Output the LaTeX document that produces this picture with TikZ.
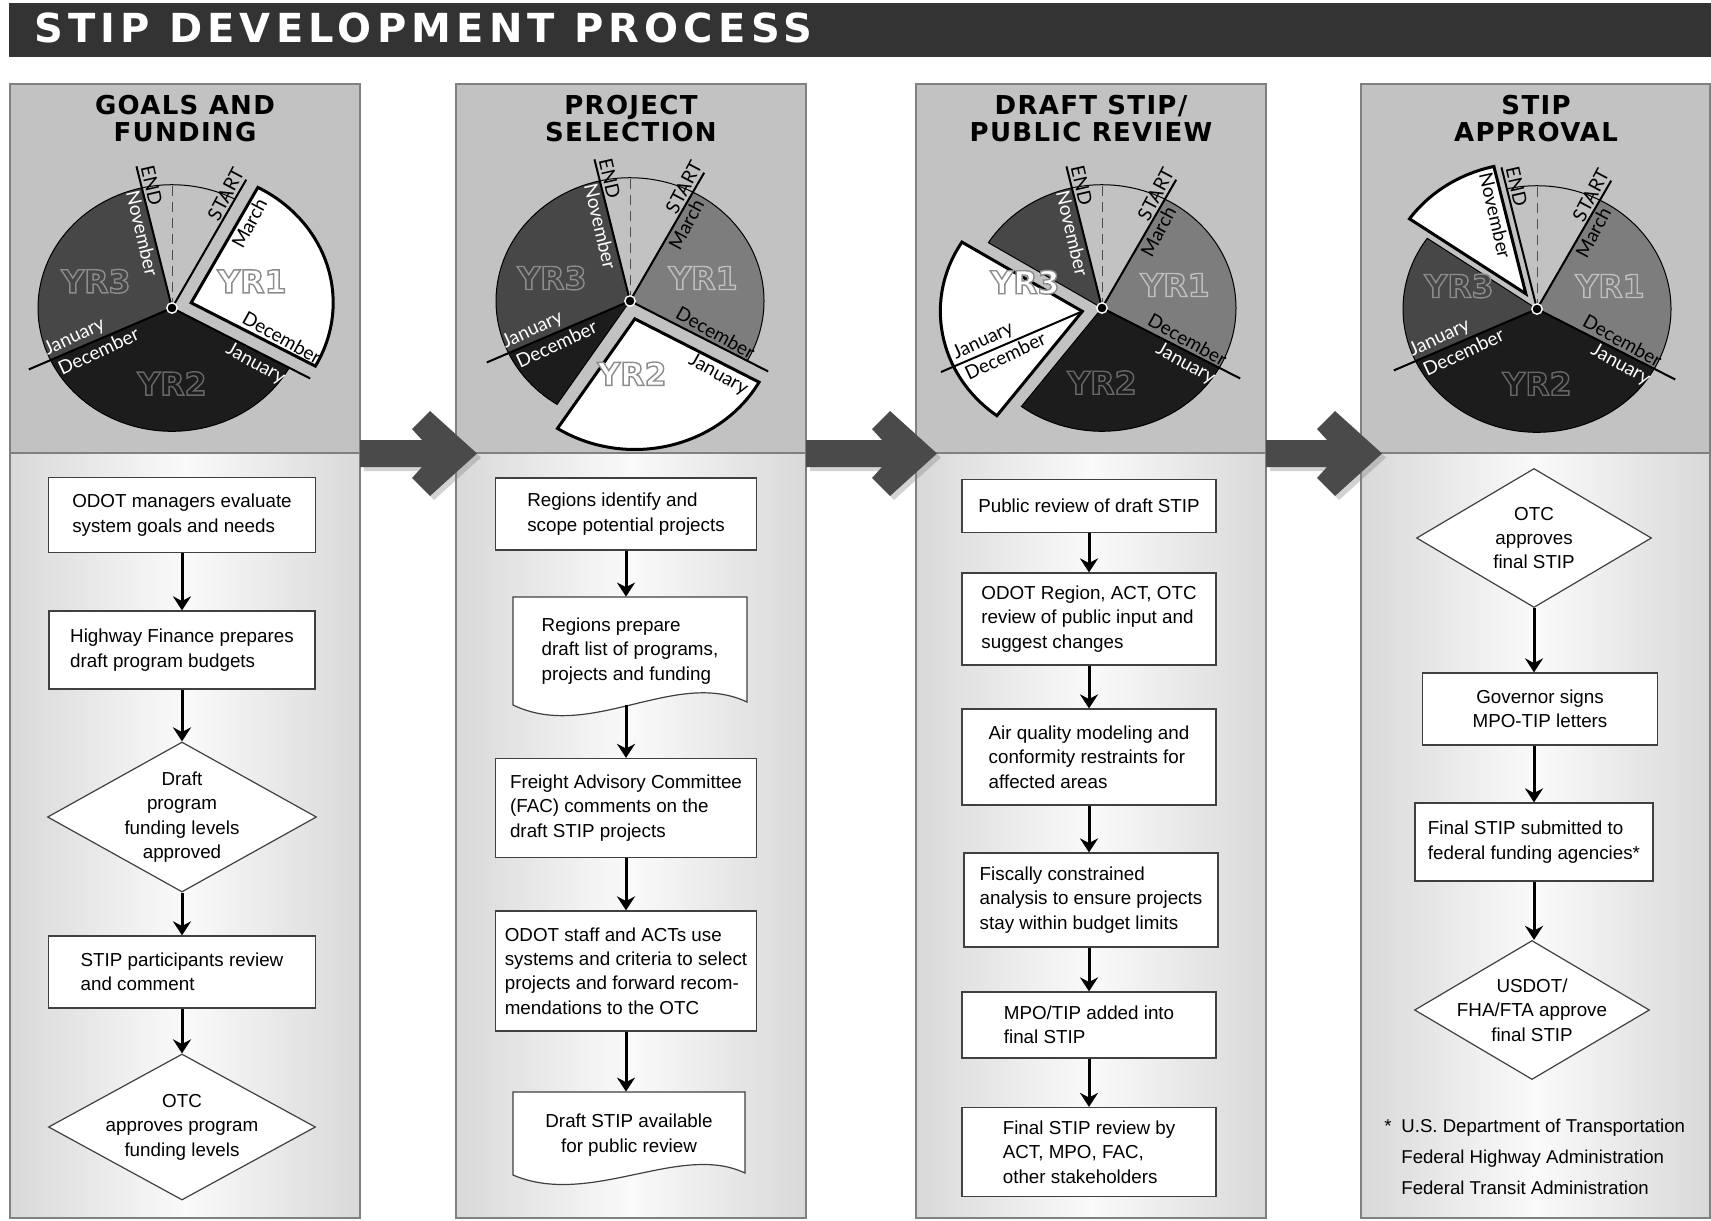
\documentclass[tikz,border=0pt]{standalone}
\usepackage{fontspec}
\setmainfont{Liberation Sans}
\newfontfamily\titlefont[LetterSpace=13]{DejaVu Sans}
\newfontfamily\headfont[LetterSpace=5]{DejaVu Sans}
\newfontfamily\yrfont{DejaVu Sans}
\newfontfamily\monthfont{Lato}
\usetikzlibrary{shapes.geometric, arrows.meta, shadows}

\definecolor{titlebar}{gray}{0.2}
\definecolor{headbg}{gray}{0.76}
\definecolor{colframe}{gray}{0.5}
\definecolor{yrone}{gray}{0.49}
\definecolor{yrtwo}{gray}{0.11}
\definecolor{yrthree}{gray}{0.28}
\definecolor{blockgray}{gray}{0.29}
\newcommand\boxfont{\fontsize{9.4}{12.2}\selectfont}
% hollow year letters: fill colour, stroke grey level, text
\newcommand\yrtext[3]{{\color{#1}\special{pdf:literal direct #2 G 0.7 w 2 Tr}#3\special{pdf:literal direct 0 Tr}}}

\begin{document}
\begin{tikzpicture}[x=0.5pt, y=-0.5pt,
    step box/.style={rectangle, draw=black!75, line width=0.6pt, fill=white, align=left, font=\boxfont, inner sep=2pt},
    doc box/.style={rectangle, align=left, font=\boxfont, inner sep=2pt},
    decision/.style={diamond, draw=black!75, line width=0.6pt, fill=white, align=center, font=\boxfont, shape aspect=1.7, inner xsep=-8pt, inner ysep=0pt},
    flow/.style={line width=1.5pt, -{Stealth[length=7pt, width=9pt]}},
    head text/.style={align=center, font=\headfont\bfseries\fontsize{13}{13.5}\selectfont},
    big arrow/.style={fill=blockgray, drop shadow={shadow xshift=2pt, shadow yshift=-2pt, opacity=0.35}},
    slice/.style={draw=black, line width=0.5pt},
    picked/.style={draw=black, fill=white, line width=1.5pt},
    spoke/.style={draw=black, line width=1pt},
    mid line/.style={dashed, dash pattern=on 5pt off 3pt, draw=black!70, line width=0.5pt},
    hub/.style={fill=black, draw=white, line width=0.7pt},
    month/.style={font=\monthfont\fontsize{9.5}{10}\selectfont, inner sep=1.5pt},
    yr/.style={font=\yrfont\bfseries\fontsize{15.8}{16}\selectfont, inner sep=0pt}]

\useasboundingbox (0,0) rectangle (1711,1220);
\fill[white] (0,0) rectangle (1711,1220);

% title bar
\fill[titlebar] (9,3) rectangle (1711,57);
\node[anchor=west, text=white, font=\titlefont\bfseries\fontsize{20}{20}\selectfont] (title) at (27,28) {STIP DEVELOPMENT PROCESS};

% four columns
\foreach \l/\r in {10/360, 456/806, 916/1266, 1361/1710} {
  \fill[headbg] (\l,84) rectangle (\r,453);
  \shade[left color=gray!30, right color=gray!30, middle color=gray!4] (\l,453) rectangle (\r,1218);
  \draw[colframe, line width=0.9pt] (\l,84) rectangle (\r,1218);
  \draw[colframe, line width=0.9pt] (\l,453) -- (\r,453);
}

% block arrows between the columns
\foreach \s/\l in {360/456, 806/916, 1266/1361} {
  \path[big arrow] (\s,440) -- (\l-34,440) -- (\l-44,429) -- (\l-26,411) -- (\l+21,453.5)
    -- (\l-26,496) -- (\l-44,478) -- (\l-34,467) -- (\s,467) -- cycle;
}

\node[head text] (head1) at (185,119) {GOALS AND\\FUNDING};
\node[head text] (head2) at (631,119) {PROJECT\\SELECTION};
\node[head text] (head3) at (1091,119) {DRAFT STIP/\\PUBLIC REVIEW};
\node[head text] (head4) at (1536,119) {STIP\\APPROVAL};

% wheel 1: YR1 picked out
\begin{scope}[shift={(172,308)}, x=0.5pt, y=0.46pt]
  \filldraw[slice, fill=yrtwo] (0,0) -- (-29:134) arc[start angle=-29, end angle=-155, radius=134] -- cycle;
  \filldraw[slice, fill=yrthree] (0,0) -- (205:134) arc[start angle=205, end angle=103, radius=134] -- cycle;
  \draw[slice] (62:134) arc[start angle=62, end angle=103, radius=134];
  \draw[mid line] (0,0) -- (90:134);
  \begin{scope}[shift={(16.5:20)}]
    \filldraw[picked] (0,0) -- (62:142) arc[start angle=62, end angle=-29, radius=142] -- cycle;
    \node[month, rotate=62, anchor=north] (w1mar) at (62:104) {March};
    \node[month, rotate=-29, anchor=south] (w1dec) at (-29:98) {December};
  \end{scope}
  \draw[spoke] (0,0) -- (62:158);
  \draw[spoke] (0,0) -- (103:158);
  \draw[spoke] (0,0) -- (-29:158);
  \draw[spoke] (0,0) -- (205:158);
  \node[month, rotate=62, anchor=south] (w1start) at (62:134) {START};
  \node[month, rotate=-77, anchor=south] (w1end) at (103:134) {END};
  \node[month, rotate=-77, anchor=north, text=white] (w1nov) at (103:86) {November};
  \node[month, rotate=-29, anchor=north, text=white] (w1jan) at (-29:102) {January};
  \node[month, rotate=25, anchor=south, text=white] (w1jan3) at (205:102) {January};
  \node[month, rotate=25, anchor=north, text=white] (w1dec2) at (205:86) {December};
  \node[yr] (w1y1) at (80,29) {\yrtext{white}{0.55}{YR1}};
  \node[yr] (w1y2) at (0,-82) {\yrtext{yrtwo}{0.4}{YR2}};
  \node[yr] (w1y3) at (-76,29) {\yrtext{yrthree}{0.55}{YR3}};
  \filldraw[hub] (0,0) circle (2.6pt);
\end{scope}

% wheel 2: first part of YR2 picked out
\begin{scope}[shift={(630,301)}, x=0.5pt, y=0.46pt]
  \filldraw[slice, fill=yrone] (0,0) -- (62:134) arc[start angle=62, end angle=-29, radius=134] -- cycle;
  \filldraw[slice, fill=yrtwo] (0,0) -- (-123:134) arc[start angle=-123, end angle=-155, radius=134] -- cycle;
  \filldraw[slice, fill=yrthree] (0,0) -- (205:134) arc[start angle=205, end angle=103, radius=134] -- cycle;
  \draw[slice] (62:134) arc[start angle=62, end angle=103, radius=134];
  \draw[mid line] (0,0) -- (90:134);
  \begin{scope}[shift={(-76:20)}]
    \filldraw[picked] (0,0) -- (-29:142) arc[start angle=-29, end angle=-123, radius=142] -- cycle;
    \node[month, rotate=-29, anchor=north] (w2jan) at (-29:102) {January};
  \end{scope}
  \draw[spoke] (0,0) -- (62:158);
  \draw[spoke] (0,0) -- (103:158);
  \draw[spoke] (0,0) -- (-29:158);
  \draw[spoke] (0,0) -- (205:158);
  \node[month, rotate=62, anchor=south] (w2start) at (62:134) {START};
  \node[month, rotate=62, anchor=north] (w2mar) at (62:100) {March};
  \node[month, rotate=-77, anchor=south] (w2end) at (103:134) {END};
  \node[month, rotate=-77, anchor=north, text=white] (w2nov) at (103:86) {November};
  \node[month, rotate=-29, anchor=south] (w2dec) at (-29:92) {December};
  \node[month, rotate=25, anchor=south, text=white] (w2jan3) at (205:102) {January};
  \node[month, rotate=25, anchor=north, text=white] (w2dec2) at (205:86) {December};
  \node[yr] (w2y1) at (73,25) {\yrtext{yrone}{0.75}{YR1}};
  \node[yr] (w2y2) at (2,-79) {\yrtext{white}{0.55}{YR2}};
  \node[yr] (w2y3) at (-78,25) {\yrtext{yrthree}{0.55}{YR3}};
  \filldraw[hub] (0,0) circle (2.6pt);
\end{scope}

% wheel 3: end of YR2 and start of YR3 picked out
\begin{scope}[shift={(1102,308)}, x=0.5pt, y=0.46pt]
  \filldraw[slice, fill=yrone] (0,0) -- (62:134) arc[start angle=62, end angle=-29, radius=134] -- cycle;
  \filldraw[slice, fill=yrtwo] (0,0) -- (-29:134) arc[start angle=-29, end angle=-127, radius=134] -- cycle;
  \filldraw[slice, fill=yrthree] (0,0) -- (148:134) arc[start angle=148, end angle=103, radius=134] -- cycle;
  \draw[slice] (62:134) arc[start angle=62, end angle=103, radius=134];
  \draw[mid line] (0,0) -- (90:134);
  \begin{scope}[shift={(190.5:20)}]
    \filldraw[picked] (0,0) -- (148:142) arc[start angle=148, end angle=233, radius=142] -- cycle;
    \draw[spoke] (0,0) -- (205:156);
    \node[month, rotate=25, anchor=south] (w3jan3) at (205:104) {January};
    \node[month, rotate=25, anchor=north] (w3dec2) at (205:90) {December};
  \end{scope}
  \draw[spoke] (0,0) -- (62:158);
  \draw[spoke] (0,0) -- (103:158);
  \draw[spoke] (0,0) -- (-29:158);
  \node[month, rotate=62, anchor=south] (w3start) at (62:134) {START};
  \node[month, rotate=62, anchor=north] (w3mar) at (62:100) {March};
  \node[month, rotate=-77, anchor=south] (w3end) at (103:134) {END};
  \node[month, rotate=-77, anchor=north, text=white] (w3nov) at (103:86) {November};
  \node[month, rotate=-29, anchor=south] (w3dec) at (-29:92) {December};
  \node[month, rotate=-29, anchor=north, text=white] (w3jan) at (-29:102) {January};
  \node[yr] (w3y1) at (73,25) {\yrtext{yrone}{0.75}{YR1}};
  \node[yr] (w3y2) at (0,-81) {\yrtext{yrtwo}{0.4}{YR2}};
  \node[yr] (w3y3) at (-77,28) {\yrtext{white}{0.55}{YR3}};
  \filldraw[hub] (0,0) circle (2.6pt);
\end{scope}

% wheel 4: end of YR3 picked out
\begin{scope}[shift={(1537,309)}, x=0.5pt, y=0.46pt]
  \filldraw[slice, fill=yrone] (0,0) -- (62:134) arc[start angle=62, end angle=-29, radius=134] -- cycle;
  \filldraw[slice, fill=yrtwo] (0,0) -- (-29:134) arc[start angle=-29, end angle=-155, radius=134] -- cycle;
  \filldraw[slice, fill=yrthree] (0,0) -- (205:134) arc[start angle=205, end angle=145, radius=134] -- cycle;
  \draw[slice] (62:134) arc[start angle=62, end angle=103, radius=134];
  \draw[mid line] (0,0) -- (90:134);
  \begin{scope}[shift={(124:20)}]
    \filldraw[picked] (0,0) -- (103:142) arc[start angle=103, end angle=145, radius=142] -- cycle;
    \node[month, rotate=-77, anchor=north] (w4nov) at (103:90) {November};
  \end{scope}
  \draw[spoke] (0,0) -- (62:158);
  \draw[spoke] (0,0) -- (103:158);
  \draw[spoke] (0,0) -- (-29:158);
  \draw[spoke] (0,0) -- (205:158);
  \node[month, rotate=62, anchor=south] (w4start) at (62:134) {START};
  \node[month, rotate=62, anchor=north] (w4mar) at (62:100) {March};
  \node[month, rotate=-77, anchor=south] (w4end) at (103:134) {END};
  \node[month, rotate=-29, anchor=south] (w4dec) at (-29:92) {December};
  \node[month, rotate=-29, anchor=north, text=white] (w4jan) at (-29:102) {January};
  \node[month, rotate=25, anchor=south, text=white] (w4jan3) at (205:102) {January};
  \node[month, rotate=25, anchor=north, text=white] (w4dec2) at (205:86) {December};
  \node[yr] (w4y1) at (73,25) {\yrtext{yrone}{0.75}{YR1}};
  \node[yr] (w4y2) at (0,-81) {\yrtext{yrtwo}{0.4}{YR2}};
  \node[yr] (w4y3) at (-78,25) {\yrtext{yrthree}{0.55}{YR3}};
  \filldraw[hub] (0,0) circle (2.6pt);
\end{scope}

% goals and funding
\node[step box, minimum width=133.5pt, minimum height=37.5pt] (fund1) at (182,515) {ODOT managers evaluate\\system goals and needs};
\node[step box, minimum width=133pt, minimum height=39pt] (fund2) at (182,650) {Highway Finance prepares\\draft program budgets};
\node[decision, minimum width=134.5pt, minimum height=75pt] (fund3) at (182,817) {Draft\\program\\funding levels\\approved};
\node[step box, minimum width=133.5pt, minimum height=36pt] (fund4) at (182,972) {STIP participants review\\and comment};
\node[decision, minimum width=133.5pt, minimum height=73pt] (fund5) at (182,1127) {OTC\\approves program\\funding levels};

\draw[flow] (fund1.south) -- (fund1.south |- fund2.north);
\draw[flow] (fund2.south) -- (fund2.south |- fund3.north);
\draw[flow] (fund3.south) -- (fund3.south |- fund4.north);
\draw[flow] (fund4.south) -- (fund4.south |- fund5.north);

% project selection
\node[step box, minimum width=130.5pt, minimum height=36pt] (sel1) at (626,514) {Regions identify and\\scope potential projects};
\draw[line width=0.6pt, draw=black!75, fill=white] (513,597) -- (747,597) -- (747,702)
  .. controls (675,668) and (590,742) .. (513,705) -- cycle;
\node[doc box, minimum width=117pt, minimum height=54pt] (sel2) at (630,651) {Regions prepare\\draft list of programs,\\projects and funding};
\node[step box, minimum width=130.5pt, minimum height=49.5pt] (sel3) at (626,808) {Freight Advisory Committee\\(FAC) comments on the\\draft STIP projects};
\node[step box, minimum width=130.5pt, minimum height=60pt] (sel4) at (626,971) {ODOT staff and ACTs use\\systems and criteria to select\\projects and forward recom-\\mendations to the OTC};
\draw[line width=0.6pt, draw=black!75, fill=white] (513,1092) -- (745,1092) -- (745,1173)
  .. controls (680,1142) and (590,1208) .. (513,1175) -- cycle;
\node[doc box, align=center, minimum width=116pt, minimum height=43pt] (sel5) at (629,1135) {Draft STIP available\\for public review};

\draw[flow] (sel1.south) -- (sel1.south |- sel2.north);
\draw[flow] (sel2.south -| sel1.south) -- (sel1.south |- sel3.north);
\draw[flow] (sel3.south) -- (sel3.south |- sel4.north);
\draw[flow] (sel4.south) -- (sel4.south |- sel5.north);

% draft stip / public review
\node[step box, minimum width=127pt, minimum height=26.5pt] (rev1) at (1089,506) {Public review of draft STIP};
\node[step box, minimum width=127pt, minimum height=46pt] (rev2) at (1089,619) {ODOT Region, ACT, OTC\\review of public input and\\suggest changes};
\node[step box, minimum width=127pt, minimum height=48pt] (rev3) at (1089,757) {Air quality modeling and\\conformity restraints for\\affected areas};
\node[step box, minimum width=127pt, minimum height=47pt] (rev4) at (1091,900) {Fiscally constrained\\analysis to ensure projects\\stay within budget limits};
\node[step box, minimum width=127pt, minimum height=33pt] (rev5) at (1089,1025) {MPO/TIP added into\\final STIP};
\node[step box, minimum width=127pt, minimum height=44.5pt] (rev6) at (1089,1152) {Final STIP review by\\ACT, MPO, FAC,\\other stakeholders};

\draw[flow] (rev1.south) -- (rev1.south |- rev2.north);
\draw[flow] (rev2.south) -- (rev2.south |- rev3.north);
\draw[flow] (rev3.south) -- (rev3.south |- rev4.north);
\draw[flow] (rev4.south -| rev3.south) -- (rev3.south |- rev5.north);
\draw[flow] (rev5.south) -- (rev5.south |- rev6.north);

% stip approval
\node[decision, minimum width=117.5pt, minimum height=69.5pt] (appr1) at (1534,538) {OTC\\approves\\final STIP};
\node[step box, align=center, minimum width=117.5pt, minimum height=36pt] (appr2) at (1540,709) {Governor signs\\MPO-TIP letters};
\node[step box, minimum width=119pt, minimum height=39pt] (appr3) at (1534,842) {Final STIP submitted to\\federal funding agencies*};
\node[decision, minimum width=117.5pt, minimum height=69.5pt] (appr4) at (1532,1010) {USDOT/\\FHA/FTA approve\\final STIP};

\draw[flow] (appr1.south) -- (appr1.south |- appr2.north);
\draw[flow] (appr2.south -| appr1.south) -- (appr1.south |- appr3.north);
\draw[flow] (appr3.south) -- (appr3.south |- appr4.north);

% footnote
\node[anchor=north west, inner sep=0pt, font=\fontsize{9.3}{9.3}\selectfont] (fnstar) at (1384,1119) {*};
\node[anchor=north west, inner sep=0pt, align=left, font=\fontsize{9.3}{15.5}\selectfont] (fntext) at (1401,1119) {U.S. Department of Transportation\\Federal Highway Administration\\Federal Transit Administration};

\end{tikzpicture}
\end{document}
